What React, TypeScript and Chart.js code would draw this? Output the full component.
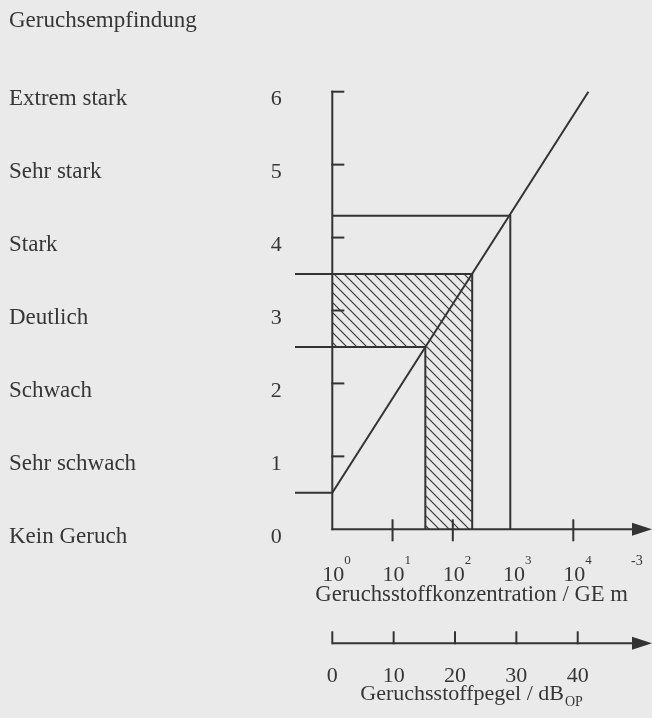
import React, { useEffect, useRef } from "react";
import { Chart, registerables } from "chart.js";

Chart.register(...registerables);

// ---- data ----
const SENSATION_LABELS = [
  "Kein Geruch",
  "Sehr schwach",
  "Schwach",
  "Deutlich",
  "Stark",
  "Sehr stark",
  "Extrem stark",
];
const SENSATION_TICKS = [0, 1, 2, 3, 4, 5, 6];
const CONC_TICK_MARKS = [10, 100, 10000];
const CONC_LABEL_EXPONENTS = [0, 1, 2, 3, 4];
const DB_TICKS = [0, 10, 20, 30, 40];

// relation: odour concentration (GE/m³) -> odour sensation
const RELATION_CONC = [1, 17800];
const RELATION_SENS = [0.5, 6];

// marked levels
const LOW_LEVEL_SENS = 0.5;
const BAND_SENS = [2.5, 3.5];
const BAND_CONC = [35, 210];
const STRONG_SENS = 4.3;
const STRONG_CONC = 900;

// ---- scale ranges (layout) ----
const X_MIN = 0.2404;
const X_MAX = 202400;
const DB_MIN = -6.08;
const DB_MAX = 52.11;

const INK = "#333333";
const TEXT = "#363636";
const PAPER = "#eaeaea";
const FONT = '"Liberation Serif", "Times New Roman", serif';

function makeHatch(): CanvasPattern | string {
  const c = document.createElement("canvas");
  const s = 10;
  c.width = s;
  c.height = s;
  const g = c.getContext("2d");
  if (!g) return "rgba(0,0,0,0)";
  g.strokeStyle = "#383838";
  g.lineWidth = 1.2;
  g.beginPath();
  g.moveTo(-1, -1);
  g.lineTo(s + 1, s + 1);
  g.moveTo(-1, s - 1);
  g.lineTo(1, s + 1);
  g.moveTo(s - 1, -1);
  g.lineTo(s + 1, 1);
  g.stroke();
  const p = g.createPattern(c, "repeat");
  return p || "rgba(0,0,0,0)";
}

const customAxes = {
  id: "customAxes",
  beforeDraw(chart: any) {
    const { ctx, width, height } = chart;
    ctx.save();
    ctx.fillStyle = PAPER;
    ctx.fillRect(0, 0, width, height);
    ctx.restore();
  },
  afterDatasetsDraw(chart: any) {
    const { ctx, chartArea } = chart;
    const x = chart.scales.x;
    const x2 = chart.scales.x2;
    const y = chart.scales.y;
    const ax = x.getPixelForValue(1);
    const y0 = y.getPixelForValue(0);
    const yTop = y.getPixelForValue(SENSATION_TICKS[SENSATION_TICKS.length - 1]);
    const right = chartArea.right;

    const seg = (x1: number, y1: number, xx: number, yy: number) => {
      ctx.beginPath();
      ctx.moveTo(x1, y1);
      ctx.lineTo(xx, yy);
      ctx.stroke();
    };
    const arrow = (tipX: number, py: number) => {
      ctx.beginPath();
      ctx.moveTo(tipX, py);
      ctx.lineTo(tipX - 20, py - 6.5);
      ctx.lineTo(tipX - 20, py + 6.5);
      ctx.closePath();
      ctx.fill();
    };

    ctx.save();
    ctx.strokeStyle = INK;
    ctx.fillStyle = INK;
    ctx.lineWidth = 2;
    ctx.lineCap = "butt";
    ctx.lineJoin = "miter";

    // y axis with ticks
    seg(ax, yTop - 1, ax, y0 + 1);
    SENSATION_TICKS.forEach((v) => {
      if (v === 0) return;
      const py = y.getPixelForValue(v);
      seg(ax - 1, py, ax + 12, py);
    });

    // upper x axis
    seg(ax - 1, y0, right - 18, y0);
    arrow(right, y0);
    CONC_TICK_MARKS.forEach((c) => {
      const px = x.getPixelForValue(c);
      seg(px, y0 - 10, px, y0 + 12);
    });

    // lower (dB) axis
    const ly = y0 + 114;
    const lx0 = x2.getPixelForValue(DB_TICKS[0]);
    seg(lx0, ly, right - 18, ly);
    arrow(right, ly);
    DB_TICKS.forEach((d) => {
      const px = x2.getPixelForValue(d);
      seg(px, ly - 12, px, ly + 1);
    });

    // ---- texts ----
    ctx.fillStyle = TEXT;
    ctx.textBaseline = "alphabetic";

    ctx.font = `23px ${FONT}`;
    ctx.textAlign = "left";
    ctx.fillText("Geruchsempfindung", 9, 27);

    SENSATION_TICKS.forEach((v, i) => {
      const py = y.getPixelForValue(v) + 13.6;
      ctx.font = `23px ${FONT}`;
      ctx.textAlign = "left";
      ctx.fillText(SENSATION_LABELS[i], 9, py);
      ctx.font = `22px ${FONT}`;
      ctx.textAlign = "center";
      ctx.fillText(String(v), ax - 56, py);
    });

    // concentration tick labels 10^n
    CONC_LABEL_EXPONENTS.forEach((e) => {
      const px = x.getPixelForValue(Math.pow(10, e));
      ctx.font = `22px ${FONT}`;
      ctx.textAlign = "center";
      ctx.fillText("10", px + 1, y0 + 52);
      ctx.font = `13px ${FONT}`;
      ctx.textAlign = "left";
      ctx.fillText(String(e), px + 12, y0 + 35);
    });

    // concentration title
    ctx.font = `22.7px ${FONT}`;
    ctx.textAlign = "left";
    const t1 = "Geruchsstoffkonzentration / GE m";
    const t1x = ax - 17;
    ctx.fillText(t1, t1x, y0 + 71.5);
    const t1w = ctx.measureText(t1).width;
    ctx.font = `14px ${FONT}`;
    ctx.fillText("-3", t1x + t1w + 3, y0 + 36);

    // dB tick labels
    ctx.font = `22px ${FONT}`;
    ctx.textAlign = "center";
    DB_TICKS.forEach((d) => {
      ctx.fillText(String(d), x2.getPixelForValue(d), ly + 39);
    });

    // dB title
    ctx.textAlign = "left";
    const t2 = "Geruchsstoffpegel / dB";
    const t2x = ax + 28;
    ctx.fillText(t2, t2x, ly + 57);
    const t2w = ctx.measureText(t2).width;
    ctx.font = `14px ${FONT}`;
    ctx.fillText("OP", t2x + t2w + 1, ly + 63);

    ctx.restore();
  },
};

export default function App() {
  const ref = useRef<HTMLCanvasElement | null>(null);

  useEffect(() => {
    const canvas = ref.current;
    if (!canvas) return;
    const hatch = makeHatch();

    const line = (pts: { x: number; y: number }[], extra: any = {}) => ({
      data: pts,
      showLine: true,
      borderColor: INK,
      borderWidth: 2,
      pointRadius: 0,
      pointHoverRadius: 0,
      tension: 0,
      fill: false,
      clip: false,
      ...extra,
    });

    const relation = RELATION_CONC.map((c, i) => ({ x: c, y: RELATION_SENS[i] }));

    const chart = new Chart(canvas, {
      type: "scatter",
      data: {
        datasets: [
          line(
            [
              { x: 1, y: BAND_SENS[0] },
              { x: 1, y: BAND_SENS[1] },
              { x: BAND_CONC[1], y: BAND_SENS[1] },
              { x: BAND_CONC[1], y: 0 },
              { x: BAND_CONC[0], y: 0 },
              { x: BAND_CONC[0], y: BAND_SENS[0] },
              { x: 1, y: BAND_SENS[0] },
            ],
            { fill: "shape", backgroundColor: hatch, borderWidth: 0, borderColor: "rgba(0,0,0,0)" }
          ),
          line(relation),
          line([
            { x: X_MIN, y: LOW_LEVEL_SENS },
            { x: 1, y: LOW_LEVEL_SENS },
          ]),
          line([
            { x: X_MIN, y: BAND_SENS[0] },
            { x: BAND_CONC[0], y: BAND_SENS[0] },
            { x: BAND_CONC[0], y: 0 },
          ]),
          line([
            { x: X_MIN, y: BAND_SENS[1] },
            { x: BAND_CONC[1], y: BAND_SENS[1] },
            { x: BAND_CONC[1], y: 0 },
          ]),
          line([
            { x: 1, y: STRONG_SENS },
            { x: STRONG_CONC, y: STRONG_SENS },
            { x: STRONG_CONC, y: 0 },
          ]),
        ] as any,
      },
      options: {
        responsive: false,
        animation: false,
        devicePixelRatio: 1,
        layout: { padding: { left: 295, right: 0, top: 91.7, bottom: 188.7 } },
        plugins: {
          legend: { display: false },
          tooltip: { enabled: false },
        },
        events: [],
        scales: {
          x: { type: "logarithmic", display: false, min: X_MIN, max: X_MAX, bounds: "data" },
          x2: { type: "linear", axis: "x", display: false, min: DB_MIN, max: DB_MAX, bounds: "data" },
          y: { type: "linear", display: false, min: 0, max: 6, bounds: "data" },
        } as any,
      },
      plugins: [customAxes],
    });

    return () => chart.destroy();
  }, []);

  return (
    <div style={{ position: "absolute", left: 0, top: 0, width: 652, height: 718, background: PAPER }}>
      <canvas ref={ref} width={652} height={718} style={{ display: "block" }} />
    </div>
  );
}
